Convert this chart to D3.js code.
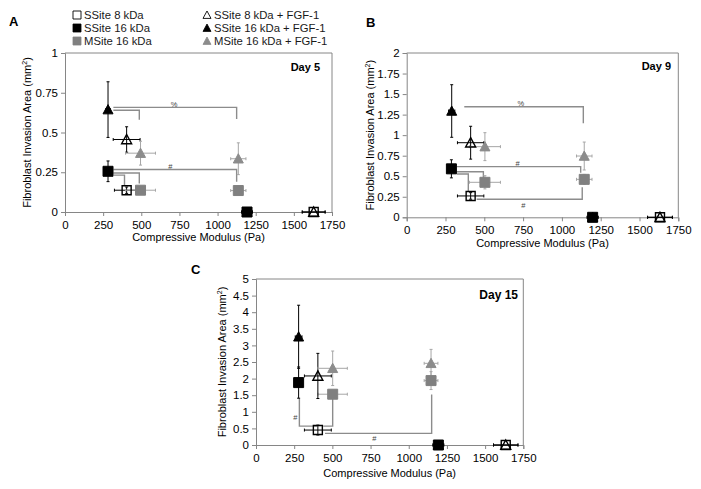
<!DOCTYPE html>
<html><head><meta charset="utf-8">
<script src="https://cdn.jsdelivr.net/npm/d3@7"></script>
<style>
html,body{margin:0;padding:0;background:#fff;}
svg text{font-family:"Liberation Sans",Arial,sans-serif;}
</style></head>
<body><svg id="c" width="701" height="489"></svg>
<script>
// ---------- data ----------
const seriesNames = ["SSite 8 kDa","SSite 16 kDa","MSite 16 kDa","SSite 8 kDa + FGF-1","SSite 16 kDa + FGF-1","MSite 16 kDa + FGF-1"];
const xTicks = [0,250,500,750,1000,1250,1500,1750];
const yTicksA = [0,0.25,0.5,0.75,1];
const yTicksB = [0,0.25,0.5,0.75,1,1.25,1.5,1.75,2];
const yTicksC = [0,0.5,1,1.5,2,2.5,3,3.5,4,4.5,5];

// each point: [modulus, area, modulusErr, areaErr]
const day5 = [
  [[404,0.137,80,0.02],[1630,0,75,0]],
  [[282,0.256,18,0.065],[1193,0,35,0]],
  [[495,0.137,98,0.015],[1136,0.135,50,0.02]],
  [[404,0.456,88,0.08],[1630,0,75,0]],
  [[282,0.644,15,0.175],[1193,0,35,0]],
  [[495,0.37,98,0.075],[1136,0.335,50,0.1]]
];
const day9 = [
  [[412,0.26,85,0.04],[1632,0,80,0]],
  [[288,0.59,20,0.11],[1198,0,35,0]],
  [[504,0.426,100,0.08],[1144,0.462,50,0.06]],
  [[412,0.908,85,0.2],[1632,0,80,0]],
  [[290,1.294,20,0.32],[1198,0,35,0]],
  [[504,0.86,100,0.17],[1144,0.746,50,0.17]]
];
const day15 = [
  [[405,0.45,88,0.15],[1635,0,80,0]],
  [[279,1.88,22,0.47],[1194,0,35,0]],
  [[502,1.53,96,0.1],[1146,1.94,45,0.27]],
  [[405,2.08,88,0.68],[1635,0,80,0]],
  [[279,3.26,22,0.95],[1194,0,35,0]],
  [[502,2.31,96,0.52],[1146,2.46,45,0.42]]
];
// significance brackets: polyline in data units + label
const bracketsA = [
  {pts:[[317,0.658],[1125,0.658],[1125,0.585]], label:"%", at:[715,0.68]},
  {pts:[[317,0.64],[487,0.64],[487,0.58]]},
  {pts:[[317,0.267],[1125,0.267],[1125,0.19]], label:"#", at:[690,0.288]},
  {pts:[[317,0.245],[487,0.245],[487,0.18]]},
  {pts:[[320,0.232],[390,0.232],[390,0.165]]}
];
const bracketsB = [
  {pts:[[371,1.346],[1138,1.346],[1138,1.144]], label:"%", at:[736,1.385]},
  {pts:[[322,0.617],[1121,0.617],[1121,0.543]], label:"#", at:[715,0.66]},
  {pts:[[322,0.555],[494,0.555],[494,0.475]]},
  {pts:[[322,0.527],[397,0.527],[397,0.31]]},
  {pts:[[451,0.219],[1131,0.219],[1131,0.365]], label:"#", at:[751,0.15]}
];
const bracketsC = [
  {pts:[[284,1.41],[284,0.57],[400,0.57]], label:"#", at:[258,0.82]},
  {pts:[[502,1.43],[502,0.57],[440,0.57]]},
  {pts:[[452,0.35],[1150,0.35],[1150,1.52]], label:"#", at:[775,0.2]}
];

// ---------- styles ----------
const styles = [
  {shape:"sq", fill:"none", stroke:"#000", size:9, err:"#000"},
  {shape:"sq", fill:"#000", stroke:"#000", size:10, err:"#000"},
  {shape:"sq", fill:"#808080", stroke:"#808080", size:10, err:"#a6a6a6"},
  {shape:"tri", fill:"none", stroke:"#000", size:10, err:"#000"},
  {shape:"tri", fill:"#000", stroke:"#000", size:10, err:"#000"},
  {shape:"tri", fill:"#8c8c8c", stroke:"#8c8c8c", size:10, err:"#a6a6a6"}
];
const axisCol = "#868686";
const svg = d3.select("#c");

function markerPath(shape, s){
  const h = s/2;
  if(shape==="sq") return `M${-h},${-h}H${h}V${h}H${-h}Z`;
  return `M0,${-h}L${h},${h*0.85}L${-h},${h*0.85}Z`;
}

function panel(cfg){
  const {x0,x1,yT,yB,yMax,yTicks,data,brackets,letter,letterPos,day,dayPos,ylabX,xlabY} = cfg;
  const x = d3.scaleLinear().domain([0,1750]).range([x0,x1]);
  const y = d3.scaleLinear().domain([0,yMax]).range([yB,yT]);
  const g = svg.append("g");
  // box
  g.append("path").attr("d",`M${x0},${yT}H${x1}V${yB}`).attr("fill","none").attr("stroke",axisCol).attr("stroke-width",1);
  // axes
  const ya = g.append("g").attr("transform",`translate(${x0},0)`)
    .call(d3.axisLeft(y).tickValues(yTicks).tickFormat(d=>String(d)).tickSize(4).tickPadding(3));
  const xa = g.append("g").attr("transform",`translate(0,${yB})`)
    .call(d3.axisBottom(x).tickValues(xTicks).tickFormat(d=>String(d)).tickSize(4).tickPadding(5));
  [ya,xa].forEach(a=>{
    a.select(".domain").attr("stroke",axisCol);
    a.selectAll(".tick line").attr("stroke",axisCol);
    a.selectAll("text").attr("font-size",11.5).attr("fill","#000").attr("font-family","Liberation Sans, Arial, sans-serif");
  });
  // axis titles
  g.append("text").attr("x",(x0+x1)/2).attr("y",xlabY).attr("text-anchor","middle").attr("font-size",11)
    .text("Compressive Modulus (Pa)");
  const yl = g.append("text").attr("transform",`translate(${ylabX},${(yT+yB)/2}) rotate(-90)`).attr("text-anchor","middle").attr("font-size",11);
  yl.append("tspan").text("Fibroblast Invasion Area (mm");
  yl.append("tspan").attr("font-size",7).attr("dy",-4).text("2");
  yl.append("tspan").attr("dy",4).text(")");
  // letter + day
  g.append("text").attr("x",letterPos[0]).attr("y",letterPos[1]).attr("font-size",13).attr("font-weight","bold").text(letter);
  g.append("text").attr("x",dayPos[0]).attr("y",dayPos[1]).attr("font-size",cfg.daySize||11).attr("font-weight","bold").attr("text-anchor","end").text(day);
  // brackets
  const line = d3.line().x(d=>x(d[0])).y(d=>y(d[1]));
  brackets.forEach(b=>{
    g.append("path").attr("d",line(b.pts)).attr("fill","none").attr("stroke","#8c8c8c").attr("stroke-width",1.4);
    if(b.label) g.append("text").attr("x",x(b.at[0])).attr("y",y(b.at[1])).attr("dy","0.35em")
      .attr("text-anchor","middle").attr("font-size",7.5).attr("fill","#444").text(b.label);
  });
  // error bars
  data.forEach((pts,si)=>{
    const st = styles[si];
    pts.forEach(p=>{
      const [px,py,ex,ey] = p;
      const eg = g.append("g").attr("stroke",st.err).attr("stroke-width",1).attr("fill","none");
      if(ex>0){
        eg.append("line").attr("x1",x(px-ex)).attr("x2",x(px+ex)).attr("y1",y(py)).attr("y2",y(py));
        [px-ex,px+ex].forEach(v=>eg.append("line").attr("x1",x(v)).attr("x2",x(v)).attr("y1",y(py)-1.5).attr("y2",y(py)+1.5));
      }
      if(ey>0){
        eg.append("line").attr("x1",x(px)).attr("x2",x(px)).attr("y1",y(py-ey)).attr("y2",y(py+ey));
        [py-ey,py+ey].forEach(v=>eg.append("line").attr("x1",x(px)-1.5).attr("x2",x(px)+1.5).attr("y1",y(v)).attr("y2",y(v)));
      }
    });
  });
  // markers (filled first, then open)
  const order = [2,5,1,4,0,3];
  order.forEach(si=>{
    const st = styles[si];
    g.selectAll(null).data(data[si]).join("path")
      .attr("transform",d=>`translate(${x(d[0])},${y(d[1])})`)
      .attr("d",markerPath(st.shape,st.size))
      .attr("fill",st.fill).attr("stroke",st.stroke).attr("stroke-width",st.fill==="none"?1.4:1);
  });
}

panel({x0:65,x1:332,yT:53,yB:212,yMax:1,yTicks:yTicksA,data:day5,brackets:bracketsA,
  letter:"A",letterPos:[9,26],day:"Day 5",dayPos:[320,71],ylabX:31,xlabY:241});
panel({x0:406.7,x1:678.3,yT:53,yB:217.3,yMax:2,yTicks:yTicksB,data:day9,brackets:bracketsB,
  letter:"B",letterPos:[366,27],day:"Day 9",dayPos:[671,70],ylabX:374,xlabY:247});
panel({x0:256,x1:523.3,yT:279,yB:445,yMax:5,yTicks:yTicksC,data:day15,brackets:bracketsC,
  letter:"C",letterPos:[191,274],day:"Day 15",dayPos:[518,299],ylabX:226,xlabY:477,daySize:12});

// legend
const legPos = [[77,15],[77,28],[77,41],[207,15],[207,28],[207,41]];
seriesNames.forEach((n,i)=>{
  const st = styles[i];
  const lg = svg.append("g").attr("transform",`translate(${legPos[i][0]},${legPos[i][1]})`);
  lg.append("path").attr("d",markerPath(st.shape,8)).attr("fill",st.fill==="none"?"#fff":st.fill)
    .attr("stroke",st.stroke).attr("stroke-width",st.fill==="none"?0.9:0.8);
  lg.append("text").attr("x",7).attr("y",0).attr("dy","0.36em").attr("font-size",11.3).attr("fill","#1a1a1a").text(n);
});
</script></body></html>
